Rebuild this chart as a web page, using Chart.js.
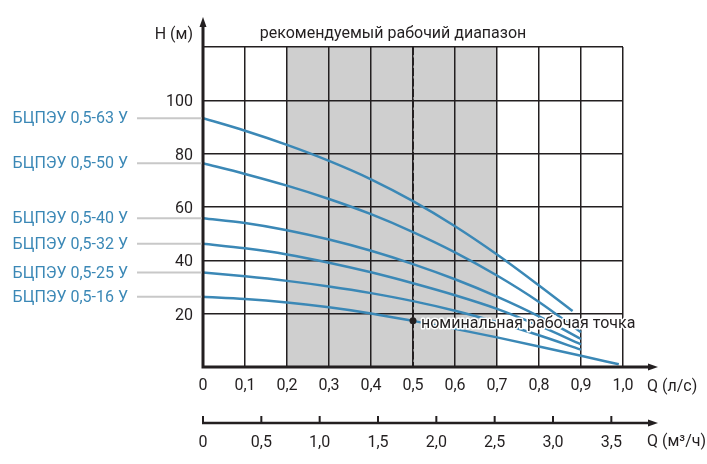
<!DOCTYPE html>
<html>
<head>
<meta charset="utf-8">
<script src="https://cdn.jsdelivr.net/npm/chart.js@4/dist/chart.umd.min.js"></script>
<style>
  body { margin: 0; background: #fff; }
  canvas { display: block; }
</style>
</head>
<body>
<canvas id="chart1" width="707" height="464"></canvas>
<script>
// pump models, labels on the left
const models = ['БЦПЭУ 0,5-63 У', 'БЦПЭУ 0,5-50 У', 'БЦПЭУ 0,5-40 У', 'БЦПЭУ 0,5-32 У', 'БЦПЭУ 0,5-25 У', 'БЦПЭУ 0,5-16 У'];

// flow Q, l/s
const q63 = [0, 0.1, 0.2, 0.3, 0.4, 0.5, 0.6, 0.7, 0.8, 0.88];
const q90 = [0, 0.1, 0.2, 0.3, 0.4, 0.5, 0.6, 0.7, 0.8, 0.9];
const q16 = [0, 0.1, 0.2, 0.3, 0.4, 0.5, 0.6, 0.7, 0.8, 0.9, 0.99];

// head H, m
const h63 = [93.3, 88.6, 83.3, 77.3, 70.4, 62.2, 52.8, 42.2, 30.6, 21.0];
const h50 = [76.4, 72.4, 68.0, 63.0, 57.3, 50.6, 43.0, 34.3, 24.4, 13.0];
const h40 = [55.8, 54.0, 51.3, 47.8, 43.6, 38.6, 32.9, 26.4, 19.0, 10.5];
const h32 = [46.2, 44.5, 42.2, 39.1, 35.5, 31.4, 26.9, 21.8, 15.5, 8.5];
const h25 = [35.4, 34.0, 32.3, 30.2, 27.7, 24.7, 21.1, 16.8, 11.9, 6.5];
const h16 = [26.3, 25.5, 24.2, 22.4, 20.1, 17.3, 14.3, 11.1, 7.7, 4.2, 1.0];

// recommended range (l/s) and nominal point
const rangeLs = [0.2, 0.7];
const nominal = [0.5, 17.3];

// axis limits / steps
const qMax = 1.0, qStep = 0.1;
const m3hMax = 3.6, m3hStep = 0.5;
const hMax = 120, hStep = 20;

const ink = '#231f20';
const blue = '#3b88b6';
const fontFamily = 'Roboto';

const fmt = v => v === 0 ? '0' : v.toFixed(1).replace('.', ',');

const curve = (label, qs, hs) => ({
    label: label,
    data: qs.map((q, i) => ({ x: q, y: hs[i] })),
    borderColor: blue,
    borderWidth: 2.5,
    pointRadius: 0,
    fill: false,
    cubicInterpolationMode: 'monotone'
});

const extras = {
    id: 'extras',
    beforeDraw(chart) {
        const { ctx, chartArea: a, scales: { x } } = chart;
        const x0 = x.getPixelForValue(rangeLs[0]);
        const x1 = x.getPixelForValue(rangeLs[1]);
        ctx.save();
        ctx.fillStyle = '#cfcfcf';
        ctx.fillRect(x0, a.top, x1 - x0, a.bottom - a.top);
        ctx.restore();
    },
    beforeDatasetsDraw(chart) {
        const { ctx, chartArea: a, scales: { x } } = chart;
        const px = x.getPixelForValue(nominal[0]);
        ctx.save();
        ctx.strokeStyle = ink;
        ctx.lineWidth = 2;
        ctx.setLineDash([8, 2.5]);
        ctx.beginPath();
        ctx.moveTo(px, a.top);
        ctx.lineTo(px, a.bottom);
        ctx.stroke();
        ctx.restore();
    },
    afterDatasetsDraw(chart) {
        const { ctx, chartArea: a, scales: { x, y, x2 } } = chart;
        ctx.save();

        // axes with arrows
        ctx.strokeStyle = ink;
        ctx.fillStyle = ink;
        ctx.lineWidth = 3;
        ctx.beginPath();
        ctx.moveTo(a.left, a.bottom + 1.5);
        ctx.lineTo(a.left, 26);
        ctx.moveTo(a.left - 1.5, a.bottom);
        ctx.lineTo(650, a.bottom);
        ctx.stroke();
        const arrowUp = (cx, tip) => {
            ctx.beginPath();
            ctx.moveTo(cx, tip);
            ctx.lineTo(cx - 3.5, tip + 10);
            ctx.lineTo(cx + 3.5, tip + 10);
            ctx.closePath();
            ctx.fill();
        };
        const arrowRight = (tip, cy) => {
            ctx.beginPath();
            ctx.moveTo(tip, cy);
            ctx.lineTo(tip - 10, cy - 3.5);
            ctx.lineTo(tip - 10, cy + 3.5);
            ctx.closePath();
            ctx.fill();
        };
        arrowUp(a.left, 17);
        arrowRight(658, a.bottom);

        // second flow axis, m3/h
        const y2 = x2.top;
        ctx.lineWidth = 2.5;
        ctx.beginPath();
        ctx.moveTo(a.left - 1, y2);
        ctx.lineTo(650, y2);
        ctx.stroke();
        arrowRight(658, y2);
        ctx.lineWidth = 2;
        ctx.beginPath();
        for (const t of x2.ticks) {
            const px = x2.getPixelForValue(t.value);
            ctx.moveTo(px, y2);
            ctx.lineTo(px, y2 - 7);
        }
        ctx.stroke();

        // axis titles
        ctx.font = '16px ' + fontFamily;
        ctx.textBaseline = 'alphabetic';
        ctx.textAlign = 'right';
        ctx.fillText('H (м)', 193, 39);
        ctx.textAlign = 'left';
        ctx.fillText('Q (л/с)', 647, 391);
        ctx.fillText('Q (м³/ч)', 647, 446);
        ctx.textAlign = 'center';
        ctx.fillText('рекомендуемый рабочий диапазон', (x.getPixelForValue(rangeLs[0]) + x.getPixelForValue(rangeLs[1])) / 2 + 1, 38);

        // model labels with leader lines
        const sets = chart.data.datasets;
        ctx.textAlign = 'right';
        ctx.textBaseline = 'middle';
        sets.forEach(ds => {
            const py = y.getPixelForValue(ds.data[0].y);
            ctx.strokeStyle = '#c8c8c8';
            ctx.lineWidth = 2;
            ctx.beginPath();
            ctx.moveTo(137, py);
            ctx.lineTo(a.left - 1.5, py);
            ctx.stroke();
            ctx.fillStyle = blue;
            ctx.fillText(ds.label, 128, py + 1);
        });

        // nominal point
        const nx = x.getPixelForValue(nominal[0]);
        const ny = y.getPixelForValue(nominal[1]);
        ctx.fillStyle = ink;
        ctx.beginPath();
        ctx.arc(nx, ny, 3.5, 0, Math.PI * 2);
        ctx.fill();
        ctx.textAlign = 'left';
        ctx.textBaseline = 'alphabetic';
        ctx.strokeStyle = '#fff';
        ctx.lineWidth = 3;
        ctx.lineJoin = 'round';
        ctx.strokeText('номинальная рабочая точка', nx + 8, ny + 7);
        ctx.fillText('номинальная рабочая точка', nx + 8, ny + 7);

        ctx.restore();
    }
};

const pump_data = {
    datasets: [
        curve(models[0], q63, h63),
        curve(models[1], q90, h50),
        curve(models[2], q90, h40),
        curve(models[3], q90, h32),
        curve(models[4], q90, h25),
        curve(models[5], q16, h16)
    ]
};

const pump_config = {
    type: 'line',
    data: pump_data,
    options: {
        responsive: false,
        animation: false,
        layout: { padding: { left: 0, right: 84, top: 47, bottom: 0 } },
        plugins: {
            legend: { display: false },
            tooltip: { enabled: false }
        },
        scales: {
            x: {
                type: 'linear',
                position: 'bottom',
                min: 0,
                max: qMax,
                ticks: {
                    stepSize: qStep,
                    callback: v => fmt(v),
                    color: ink,
                    font: { family: fontFamily, size: 16 },
                    padding: 9,
                    maxRotation: 0,
                    autoSkip: false
                },
                grid: { color: ink, lineWidth: 1.5, drawTicks: false },
                border: { display: false },
                afterFit: s => { s.height = 56; }
            },
            x2: {
                type: 'linear',
                position: 'bottom',
                min: 0,
                max: m3hMax,
                ticks: {
                    stepSize: m3hStep,
                    includeBounds: false,
                    callback: v => fmt(v),
                    color: ink,
                    font: { family: fontFamily, size: 16 },
                    padding: 10,
                    maxRotation: 0,
                    autoSkip: false
                },
                grid: { display: false, drawTicks: false },
                border: { display: false },
                afterFit: s => { s.height = 41; }
            },
            y: {
                min: 0,
                max: hMax,
                ticks: {
                    stepSize: hStep,
                    callback: v => (v === 0 || v === hMax) ? '' : v,
                    color: ink,
                    font: { family: fontFamily, size: 16 },
                    padding: 10,
                    labelOffset: 2
                },
                grid: { color: ink, lineWidth: 1.5, drawTicks: false },
                border: { display: false },
                afterFit: s => { s.width = 203; }
            }
        }
    },
    plugins: [extras]
};

const pump_chart = new Chart(
    document.getElementById('chart1'),
    pump_config
);
</script>
</body>
</html>
